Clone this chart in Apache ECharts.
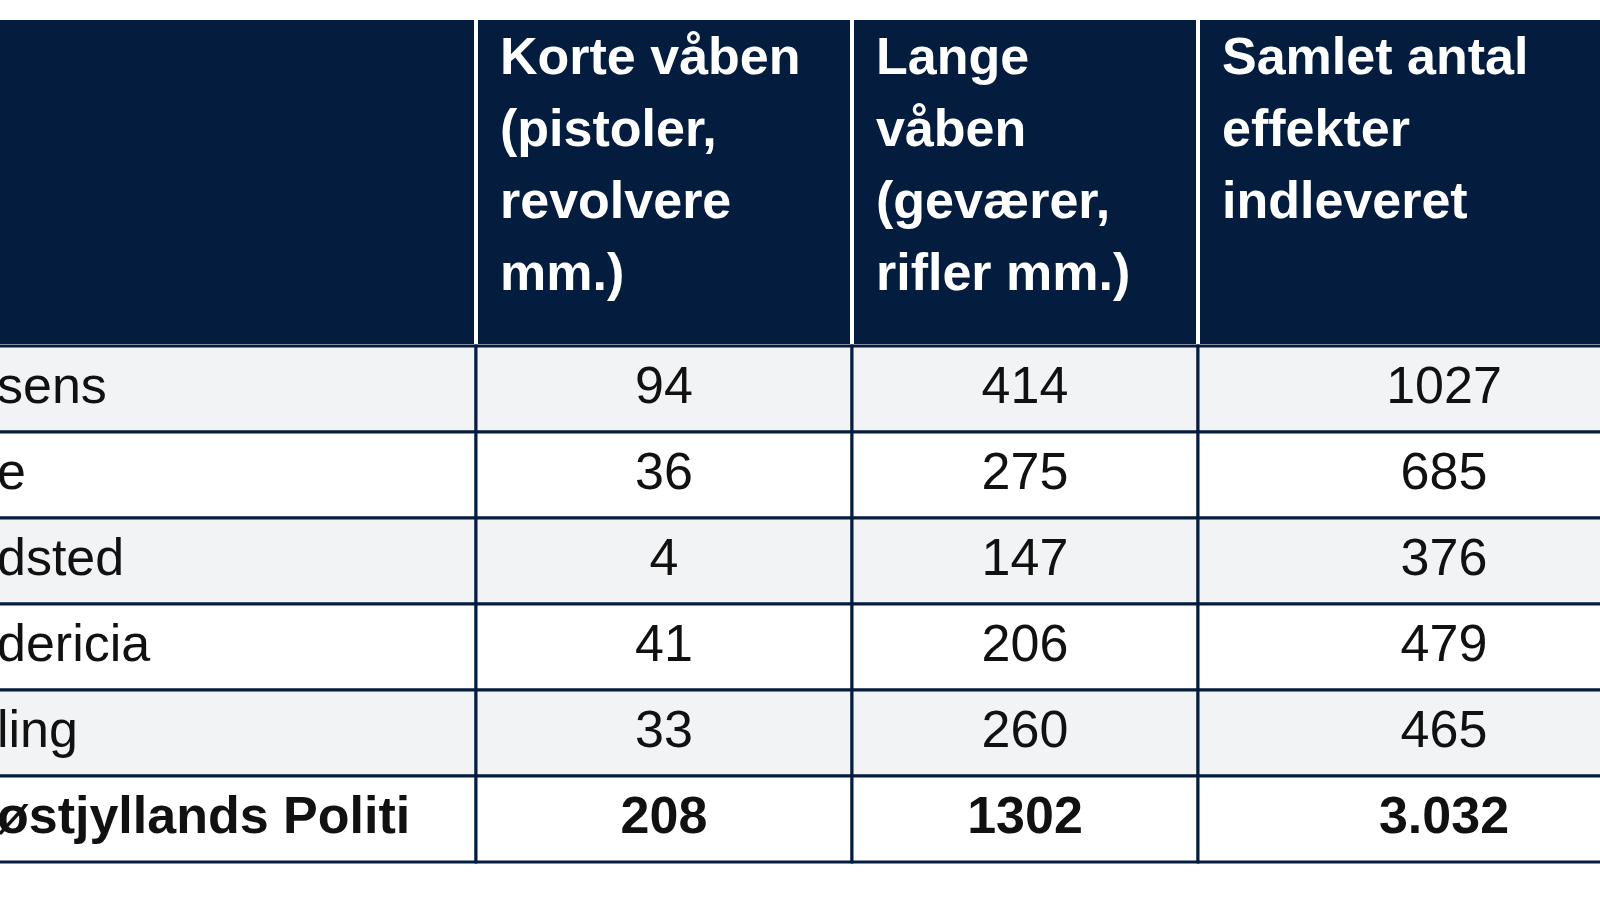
<!DOCTYPE html>
<html><head><meta charset="utf-8">
<script src="https://cdn.jsdelivr.net/npm/echarts@6/dist/echarts.min.js"></script>
<style>html,body{margin:0;background:#fff;overflow:hidden}#c{width:1600px;height:900px}</style>
</head><body><div id="c"></div>
<script>
var headers = ["", "Korte våben\n(pistoler,\nrevolvere\nmm.)", "Lange\nvåben\n(geværer,\nrifler mm.)", "Samlet antal\neffekter\nindleveret"];
var stations = ["sens", "e", "dsted", "dericia", "ling", "østjyllands Politi"];
var korte = ["94", "36", "4", "41", "33", "208"];
var lange = ["414", "275", "147", "206", "260", "1302"];
var samlet = ["1027", "685", "376", "479", "465", "3.032"];

// layout (pixels)
var colEdges = [-20, 476, 852, 1198, 1690];
var rowEdges = [18, 346, 432, 518, 604, 690, 776, 862];
var NAVY = '#041c3d';

var cells = [];
for (var c = 0; c < 4; c++) cells.push([c, 0, headers[c]]);
var cols = [stations, korte, lange, samlet];
for (var r = 0; r < stations.length; r++)
  for (var c2 = 0; c2 < 4; c2++) cells.push([c2, r + 1, cols[c2][r]]);

var chart = echarts.init(document.getElementById('c'));
chart.setOption({
  animation: false,
  grid: {left: 0, right: 0, top: 0, bottom: 0, outerBoundsMode: 'none', containLabel: false},
  xAxis: {type: 'value', min: 0, max: 1600, show: false},
  yAxis: {type: 'value', min: 0, max: 900, inverse: true, show: false},
  series: [{
    type: 'custom',
    data: cells,
    renderItem: function (params, api) {
      var c = api.value(0), r = api.value(1);
      var txt = cells[params.dataIndex][2];
      var p0 = api.coord([colEdges[c], rowEdges[r]]);
      var p1 = api.coord([colEdges[c + 1], rowEdges[r + 1]]);
      var w = p1[0] - p0[0], h = p1[1] - p0[1];
      var header = r === 0;
      var fill = header ? NAVY : (r % 2 === 1 ? '#f2f3f5' : '#ffffff');
      var last = r === stations.length;
      var children = [{
        type: 'rect',
        shape: {x: p0[0], y: p0[1], width: w, height: h},
        style: {fill: fill, stroke: header ? '#ffffff' : NAVY, lineWidth: header ? 4 : 3}
      }];
      var font = 'Liberation Sans, Arial, sans-serif';
      if (header) {
        children.push({type: 'text', style: {
          text: txt, x: p0[0] + 24, y: p0[1] + 6, fill: '#ffffff',
          font: 'bold 52px ' + font, lineHeight: 72, align: 'left', verticalAlign: 'top'}});
      } else if (c === 0) {
        children.push({type: 'text', style: {
          text: txt, x: p0[0] + 17, y: p0[1] + h / 2, fill: '#111',
          font: (last ? 'bold ' : '') + '52px ' + font, align: 'left', verticalAlign: 'middle'}});
      } else {
        children.push({type: 'text', style: {
          text: txt, x: p0[0] + w / 2, y: p0[1] + h / 2, fill: '#111',
          font: (last ? 'bold ' : '') + '52px ' + font, align: 'center', verticalAlign: 'middle'}});
      }
      return {type: 'group', children: children};
    }
  }]
});
</script></body></html>
